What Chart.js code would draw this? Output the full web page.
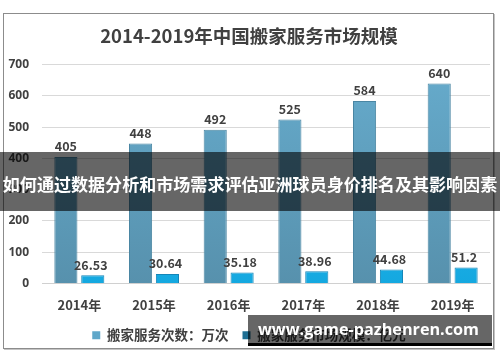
<!DOCTYPE html>
<html>
<head>
<meta charset="utf-8">
<script src="https://cdn.jsdelivr.net/npm/chart.js@4.4.1/dist/chart.umd.min.js"></script>
<style>
  html, body { margin: 0; padding: 0; background: #ffffff; }
  #wrap { position: relative; width: 500px; height: 362px; overflow: hidden; background: #fff; }
  #frame { position: absolute; left: 3px; top: 13px; width: 489px; height: 334px; border: 1px solid #8c8c8c; box-shadow: 1px 1px 0 #c4c4c4; }
  #chart { position: absolute; left: 0; top: 0; }
  #band { position: absolute; left: 0; top: 152px; width: 500px; height: 59px; background: rgba(0,0,0,0.6); }
  #bandText { position: absolute; left: 0; top: 0; width: 500px; height: 59px; line-height: 59px; color: #fff; font-family: "Noto Sans CJK SC", sans-serif; font-weight: bold; font-size: 18px; white-space: nowrap; text-align: center; margin-top: 2px; }
  #wm { position: absolute; left: 248px; top: 315px; width: 244px; height: 28px; background: rgba(0,0,0,0.6); border-bottom: 3px solid #000; }
  #wmText { position: absolute; left: 10px; top: 0; height: 28px; line-height: 28px; color: #fff; font-family: "Open Sans", sans-serif; font-weight: bold; font-size: 20px; white-space: nowrap; }
</style>
</head>
<body>
<div id="wrap">
  <div id="frame"></div>
  <canvas id="chart" width="500" height="362"></canvas>
  <div id="band"><div id="bandText">如何通过数据分析和市场需求评估亚洲球员身价排名及其影响因素</div></div>
  <div id="wm"><div id="wmText">www.game-pazhenren.com</div></div>
</div>
<script>
const titleText = "2014-2019年中国搬家服务市场规模";
const categories = ["2014年", "2015年", "2016年", "2017年", "2018年", "2019年"];
const serviceCountLabel = "搬家服务次数：万次";
const serviceCount = [405, 448, 492, 525, 584, 640];
const marketSizeLabel = "搬家服务市场规模：亿元";
const marketSize = [26.53, 30.64, 35.18, 38.96, 44.68, 51.2];
const yTicks = [0, 100, 200, 300, 400, 500, 600, 700];

function fitWidth(el, target) {
  const w = el.scrollWidth;
  const fs = parseFloat(getComputedStyle(el).fontSize);
  el.style.fontSize = (fs * target / w) + "px";
}

function grad(ctx, top, bottom) {
  const chart = ctx.chart;
  const area = chart.chartArea;
  if (!area) return top;
  const g = chart.ctx.createLinearGradient(0, area.top, 0, area.bottom);
  g.addColorStop(0, top);
  g.addColorStop(1, bottom);
  return g;
}

const valueLabels = {
  id: "valueLabels",
  afterDatasetsDraw(chart) {
    const c = chart.ctx;
    c.save();
    c.font = "bold 12.5px 'Noto Sans CJK SC', 'Open Sans', sans-serif";
    c.fillStyle = "#404040";
    c.textAlign = "center";
    c.textBaseline = "bottom";
    chart.data.datasets.forEach((ds, i) => {
      const meta = chart.getDatasetMeta(i);
      meta.data.forEach((el, j) => {
        c.fillText(String(ds.data[j]), el.x - (i === 1 ? 2 : 0), el.y - 4);
      });
    });
    c.restore();
  }
};

new Chart(document.getElementById("chart"), {
  type: "bar",
  data: {
    labels: categories,
    datasets: [
      {
        label: serviceCountLabel,
        data: serviceCount,
        backgroundColor: (ctx) => grad(ctx, "#66abcc", "#5791ad"),
        borderColor: "#4a86a3",
        borderWidth: 1,
        legendColor: "#5fa7c9"
      },
      {
        label: marketSizeLabel,
        data: marketSize,
        backgroundColor: (ctx) => grad(ctx, "#40c6f7", "#14a8e0"),
        borderColor: "#1586b8",
        borderWidth: 1,
        legendColor: "#1e6f93"
      }
    ]
  },
  options: {
    responsive: false,
    animation: false,
    devicePixelRatio: 1,
    layout: { padding: { left: 8, right: 10, top: 0, bottom: 10 } },
    datasets: { bar: { categoryPercentage: 0.72, barPercentage: 0.86 } },
    plugins: {
      title: {
        display: true,
        text: titleText,
        color: "#404040",
        font: { family: "'Noto Sans CJK SC', sans-serif", size: 18.5, weight: "bold" },
        padding: { top: 25, bottom: 17.5 }
      },
      legend: {
        position: "bottom",
        labels: {
          color: "#404040",
          font: { family: "'Noto Sans CJK SC', sans-serif", size: 13.5, weight: "bold" },
          boxWidth: 8,
          boxHeight: 8,
          padding: 14,
          generateLabels(chart) {
            return chart.data.datasets.map((ds, i) => ({
              text: ds.label,
              fillStyle: ds.legendColor,
              strokeStyle: ds.legendColor,
              lineWidth: 0,
              fontColor: "#404040",
              datasetIndex: i,
              hidden: false
            }));
          }
        }
      },
      tooltip: { enabled: false }
    },
    scales: {
      x: {
        grid: { display: false, drawTicks: false },
        border: { display: true, color: "#d0d0d0", width: 1 },
        afterFit(scale) { scale.height = 31; },
        ticks: {
          color: "#404040",
          padding: 14,
          font: { family: "'Noto Sans CJK SC', sans-serif", size: 13, weight: "bold" }
        }
      },
      y: {
        min: 0,
        max: 700,
        afterBuildTicks(scale) { scale.ticks = yTicks.map(v => ({ value: v })); },
        afterFit(scale) { scale.width = 34; },
        grid: { color: "#d9d9d9", drawTicks: false },
        border: { display: false },
        ticks: {
          color: "#404040",
          padding: 13,
          font: { family: "'Open Sans', 'Noto Sans CJK SC', sans-serif", size: 12, weight: "bold" }
        }
      }
    }
  },
  plugins: [valueLabels]
});

fitWidth(document.getElementById("bandText"), 495);
fitWidth(document.getElementById("wmText"), 221);
</script>
</body>
</html>
